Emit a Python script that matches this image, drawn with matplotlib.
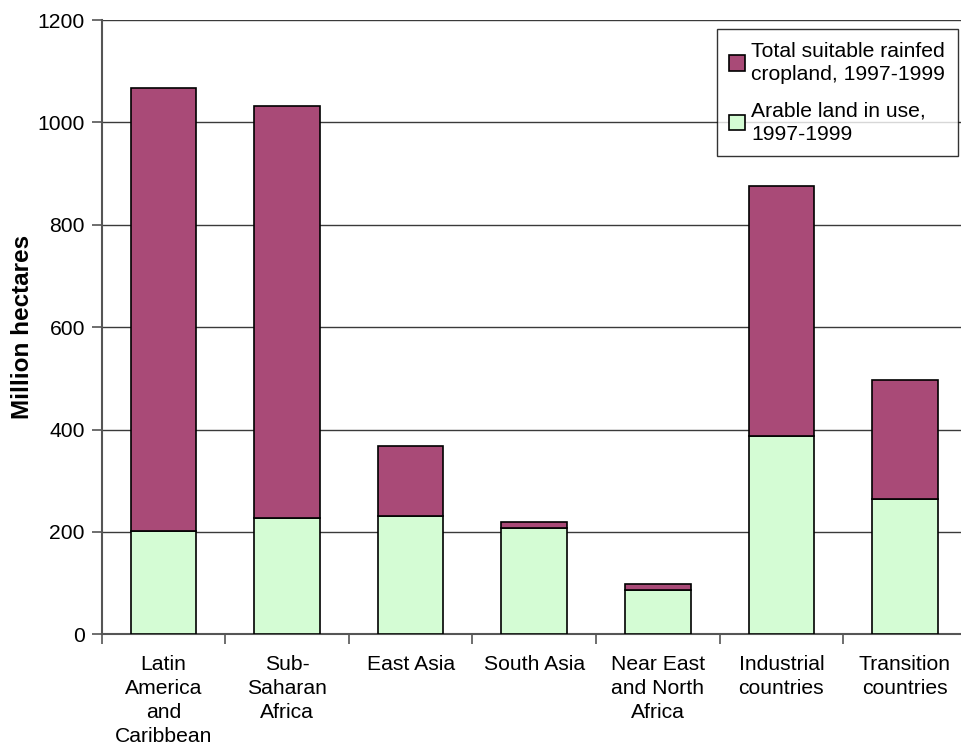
import matplotlib
matplotlib.use("Agg")
import matplotlib.pyplot as plt
import numpy as np

plt.rcParams['font.family'] = ['Liberation Sans', 'DejaVu Sans']

regions = ["Latin\nAmerica\nand\nCaribbean", "Sub-\nSaharan\nAfrica", "East Asia",
           "South Asia", "Near East\nand North\nAfrica", "Industrial\ncountries",
           "Transition\ncountries"]
total_suitable = [1067, 1032, 367, 220, 99, 876, 497]
arable_in_use = [202, 227, 232, 207, 86, 387, 264]
yticks = [0, 200, 400, 600, 800, 1000, 1200]

purple = "#A94A77"
green = "#D4FCD4"
fs = 15.2

fig = plt.figure(figsize=(9.61, 7.53), dpi=100)
ax = fig.add_axes([101.6 / 961, 1 - 634.3 / 753, 865.2 / 961, (634.3 - 20) / 753])

x = np.arange(len(regions))
w = 0.53
remaining = [t - a for t, a in zip(total_suitable, arable_in_use)]
ax.bar(x, arable_in_use, width=w, color=green, edgecolor="black", linewidth=1.2, zorder=3,
       label="Arable land in use,\n1997-1999")
ax.bar(x, remaining, bottom=arable_in_use, width=w, color=purple, edgecolor="black",
       linewidth=1.2, zorder=3, label="Total suitable rainfed\ncropland, 1997-1999")

ax.set_xlim(-0.5, len(regions) - 0.5)
ax.set_ylim(0, 1200)
ax.set_yticks(yticks)
ax.set_yticklabels([str(v) for v in yticks], fontsize=fs)
ax.yaxis.grid(True, color="#3a3a3a", linewidth=1.0, zorder=0)
ax.set_axisbelow(True)

ax.set_xticks(x)
ax.set_xticklabels(regions, fontsize=fs, linespacing=1.32, va="top")
ax.set_xticks(np.arange(len(regions) + 1) - 0.5, minor=True)
ax.tick_params(axis="x", which="major", length=0, pad=15)
ax.tick_params(axis="x", which="minor", length=7, width=1.2, color="#555555", direction="out")
ax.tick_params(axis="y", length=7, width=1.2, color="#555555", pad=5)

for side in ["top", "right"]:
    ax.spines[side].set_visible(False)
ax.spines["left"].set_color("#555555")
ax.spines["left"].set_linewidth(1.5)
ax.spines["bottom"].set_color("#555555")
ax.spines["bottom"].set_linewidth(1.5)

ax.set_ylabel("Million hectares", fontsize=17.5, fontweight="bold", labelpad=2.5)

handles, labels = ax.get_legend_handles_labels()
leg = ax.legend(handles[::-1], labels[::-1], loc="upper right",
                bbox_to_anchor=(958 / 961, 1 - 29 / 753), bbox_transform=fig.transFigure,
                fontsize=fs, frameon=True, fancybox=False, handlelength=0.75,
                handleheight=0.75, handletextpad=0.3, borderpad=0.6, labelspacing=0.8,
                borderaxespad=0)
for t in leg.get_texts():
    t.set_linespacing(1.3)
leg.get_frame().set_edgecolor("black")
leg.get_frame().set_linewidth(1.0)

fig.savefig("out.png", dpi=100)
